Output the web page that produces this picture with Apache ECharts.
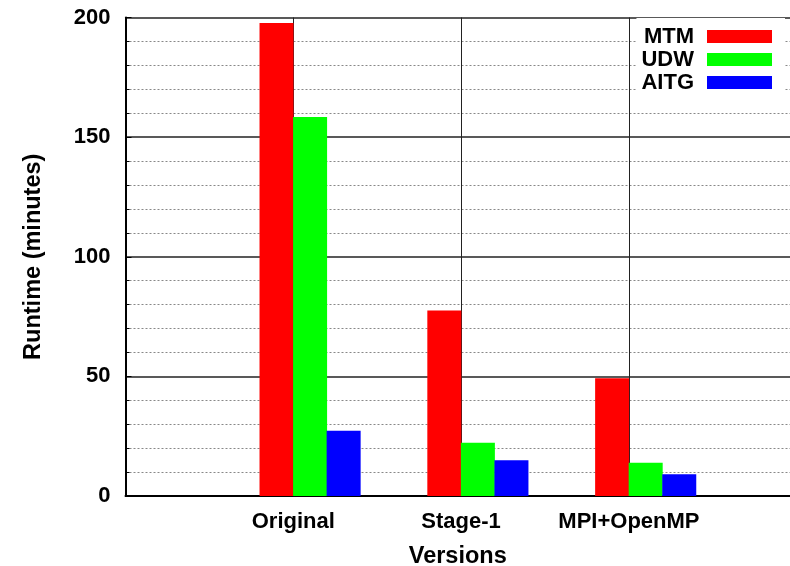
<!DOCTYPE html>
<html>
<head>
<meta charset="utf-8">
<script src="https://cdn.jsdelivr.net/npm/echarts@6/dist/echarts.min.js"></script>
<style>
  html, body { margin: 0; padding: 0; background: #fff; overflow: hidden; }
  #main { width: 790px; height: 566px; }
</style>
</head>
<body>
<div id="main"></div>
<script>
// categories and values
const versions = ['Original', 'Stage-1', 'MPI+OpenMP']
const seriesNames = ['MTM', 'UDW', 'AITG']
const mtm = [197.7, 77.5, 49.2]
const udw = [158.4, 22.3, 13.9]
const aitg = [27.3, 14.9, 9.1]
const yTicks = [0, 50, 100, 150, 200]

// gnuplot-style clustered histogram: bars of a cluster sit left/right of the tick
const colors = ['#ff0000', '#00ff00', '#0000ff']
const clusterOffset = [-0.1, 0.1, 0.3]
const font = 'Liberation Sans'

function toPoints(values, k) {
  return values.map((v, i) => [i + 1 + clusterOffset[k], v])
}

const chart = echarts.init(document.getElementById('main'))

const option = {
  animation: false,
  backgroundColor: '#fff',
  textStyle: { fontFamily: font },
  grid: { left: 125.5, right: 0, top: 17.5, bottom: 70, outerBoundsMode: 'none' },
  legend: {
    orient: 'vertical',
    align: 'right',
    right: 5,
    top: 18,
    padding: [7, 13, 6, 5],
    backgroundColor: '#fff',
    itemWidth: 65,
    itemHeight: 13,
    itemGap: 0,
    icon: 'rect',
    textStyle: {
      fontFamily: font,
      fontWeight: 'bold',
      fontSize: 22,
      lineHeight: 23,
      color: '#000',
      padding: [0, 8, 0, 0],
    },
    data: seriesNames,
  },
  xAxis: {
    type: 'value',
    min: 0,
    max: 3.96,
    interval: 1,
    name: 'Versions',
    nameLocation: 'middle',
    nameGap: 49,
    nameTextStyle: { fontFamily: font, fontWeight: 'bold', fontSize: 23.5, color: '#000' },
    axisLine: { show: true, lineStyle: { color: '#000', width: 2 } },
    axisTick: { show: false },
    axisLabel: {
      margin: 15,
      fontFamily: font,
      fontWeight: 'bold',
      fontSize: 22,
      color: '#000',
      formatter: (v) => (Number.isInteger(v) && v >= 1 ? versions[v - 1] || '' : ''),
    },
    // no right border in the reference
    splitLine: { show: true, showMaxLine: false, lineStyle: { color: '#222', width: 1 } },
  },
  yAxis: {
    type: 'value',
    min: 0,
    max: 200,
    interval: 50,
    name: 'Runtime (minutes)',
    nameLocation: 'middle',
    nameGap: 80,
    nameTextStyle: { fontFamily: font, fontWeight: 'bold', fontSize: 23.5, color: '#000' },
    axisLine: { show: true, lineStyle: { color: '#000', width: 2 } },
    axisTick: { show: true, inside: true, length: 6, lineStyle: { color: '#000' } },
    minorTick: { show: true, splitNumber: 5, length: 4, lineStyle: { color: '#000' } },
    axisLabel: {
      margin: 15,
      fontFamily: font,
      fontWeight: 'bold',
      fontSize: 22,
      color: '#000',
      formatter: (v) => (yTicks.includes(v) ? String(v) : ''),
    },
    splitLine: { show: true, lineStyle: { color: '#222', width: 1.5 } },
    minorSplitLine: { show: true, lineStyle: { color: '#888', width: 1, type: [2, 2] } },
  },
  series: [mtm, udw, aitg].map((values, k) => ({
    name: seriesNames[k],
    type: 'bar',
    barWidth: 34,
    barGap: '-100%',
    itemStyle: { color: colors[k] },
    data: toPoints(values, k),
  })),
}

chart.setOption(option)
</script>
</body>
</html>
